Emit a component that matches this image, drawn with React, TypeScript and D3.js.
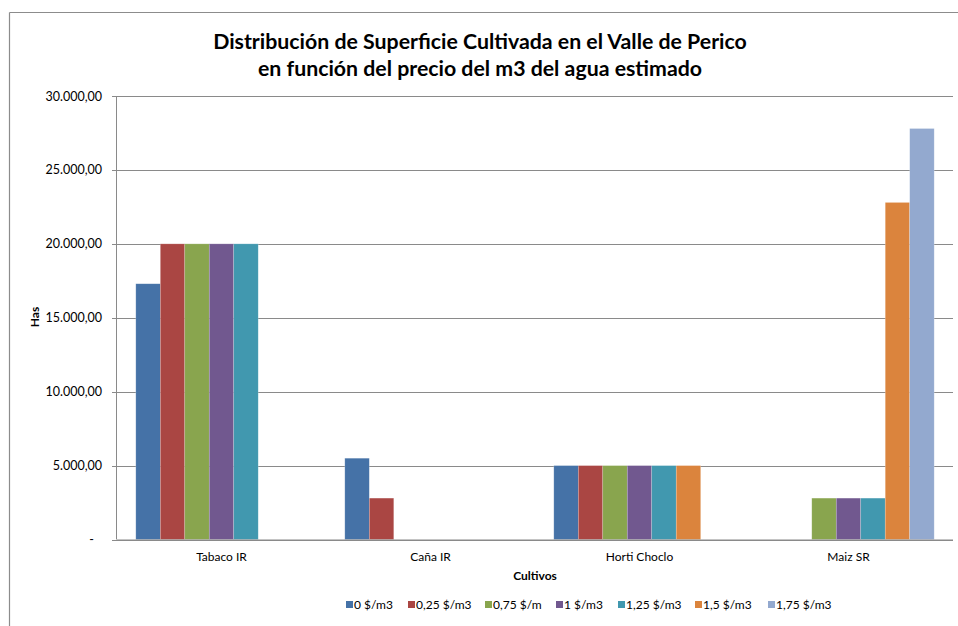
import React from 'react';
import { scaleBand, scaleLinear } from 'd3';

const categories = ['Tabaco IR', 'Caña IR', 'Horti Choclo', 'Maiz SR'];
const seriesNames = ['0 $/m3', '0,25 $/m3', '0,75 $/m', '1 $/m3', '1,25 $/m3', '1,5 $/m3', '1,75 $/m3'];
const seriesColors = ['#4572A7', '#AA4643', '#89A54E', '#71588F', '#4198AF', '#DB843D', '#93A9CF'];

// one array per price, values in the order of categories
const price0 = [17300, 5500, 5000, 0];
const price025 = [20000, 2800, 5000, 0];
const price075 = [20000, 0, 5000, 2800];
const price1 = [20000, 0, 5000, 2800];
const price125 = [20000, 0, 5000, 2800];
const price15 = [0, 0, 5000, 22800];
const price175 = [0, 0, 0, 27800];
const seriesValues = [price0, price025, price075, price1, price125, price15, price175];

const yTicks = [0, 5000, 10000, 15000, 20000, 25000, 30000];
const yTickLabels = ['-', '5.000,00', '10.000,00', '15.000,00', '20.000,00', '25.000,00', '30.000,00'];
const legendX = [346, 408, 485, 556, 618, 695, 768];

const W = 958;
const H = 626;
const font = 'Lato, Calibri, sans-serif';

const App = () => {
  const left = 117, right = 953, top = 96, bottom = 539.5;

  const x0 = scaleBand<string>()
    .domain(categories)
    .range([left, right])
    .paddingInner(0.18)
    .paddingOuter(0.09);
  const x1 = scaleBand<string>()
    .domain(seriesNames)
    .range([0, x0.bandwidth()]);
  const y = scaleLinear().domain([0, 30000]).range([bottom, top]);

  return (
    <svg width={W} height={H} style={{ position: 'absolute', left: 0, top: 0, display: 'block' }}>
      <rect width={W} height={H} fill="#fff" />
      {/* chart frame, only top and left visible */}
      <line x1={9.5} y1={12.5} x2={W} y2={12.5} stroke="#8c8c8c" strokeWidth={1.2} />
      <line x1={9.5} y1={12.5} x2={9.5} y2={H} stroke="#8c8c8c" strokeWidth={1.2} />

      <text x={480} y={49} textAnchor="middle" fontFamily={font} fontWeight="bold" fontSize={21.3} fill="#000">
        Distribución de Superficie Cultivada en el Valle de Perico
      </text>
      <text x={480} y={76} textAnchor="middle" fontFamily={font} fontWeight="bold" fontSize={21.3} fill="#000">
        en función del precio del m3 del agua estimado
      </text>

      {/* grid + y axis */}
      {yTicks.map((t, i) => (
        <g key={t}>
          <line x1={left - 5} x2={right} y1={Math.round(y(t)) + 0.5} y2={Math.round(y(t)) + 0.5} stroke="#8a8a8a" strokeWidth={1} />
          <text x={t === 0 ? 94 : 102} y={y(t) + 4.5} textAnchor="end" fontFamily={font} fontSize={12.5} fill="#000">
            {yTickLabels[i]}
          </text>
        </g>
      ))}
      <line x1={left - 0.5} x2={left - 0.5} y1={top} y2={bottom} stroke="#8a8a8a" strokeWidth={1} />

      {/* bars */}
      {seriesValues.map((vals, si) =>
        vals.map((v, ci) =>
          v > 0 ? (
            <rect
              key={`${si}-${ci}`}
              x={(x0(categories[ci]) as number) + (x1(seriesNames[si]) as number)}
              y={y(v)}
              width={x1.bandwidth()}
              height={bottom - y(v)}
              fill={seriesColors[si]}
              stroke="#ffffff"
              strokeOpacity={0.35}
              strokeWidth={0.6}
            />
          ) : null
        )
      )}
      <line x1={left} x2={right} y1={bottom + 0.5} y2={bottom + 0.5} stroke="#8a8a8a" strokeWidth={1.2} />

      {/* category labels */}
      {categories.map(c => (
        <text key={c} x={(x0(c) as number) + x0.bandwidth() / 2} y={561} textAnchor="middle" fontFamily={font} fontSize={12} fill="#000">
          {c}
        </text>
      ))}
      <text x={535} y={580} textAnchor="middle" fontFamily={font} fontWeight="bold" fontSize={12} fill="#000">
        Cultivos
      </text>
      <text transform="translate(38.5,317) rotate(-90)" textAnchor="middle" fontFamily={font} fontWeight="bold" fontSize={12} fill="#000">
        Has
      </text>

      {/* legend */}
      {seriesNames.map((s, i) => (
        <g key={s}>
          <rect x={legendX[i]} y={601} width={7} height={7} fill={seriesColors[i]} />
          <text x={legendX[i] + 8} y={608.5} fontFamily={font} fontSize={12} fill="#000">
            {s}
          </text>
        </g>
      ))}
    </svg>
  );
};

export default App;
